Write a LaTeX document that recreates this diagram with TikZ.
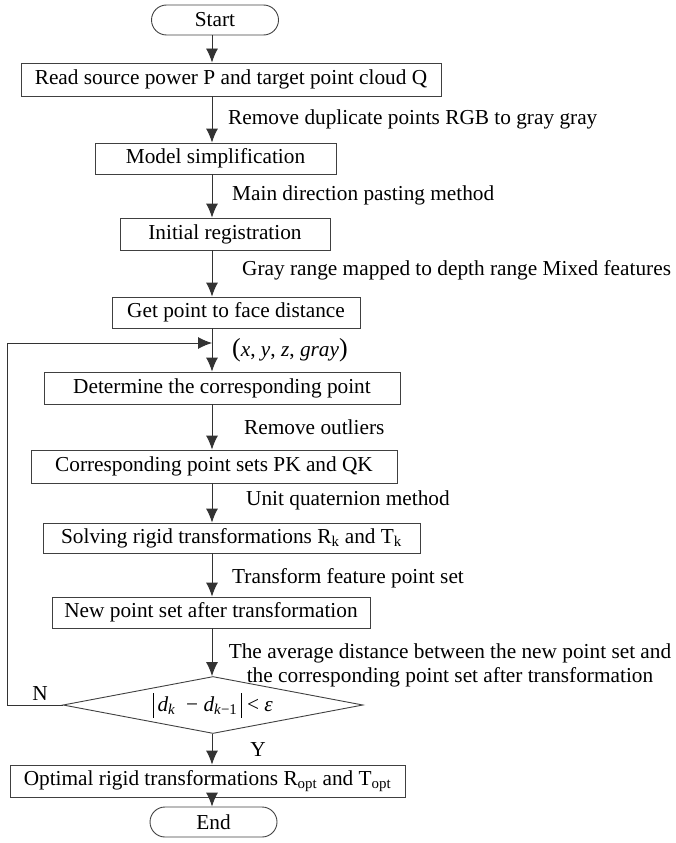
\documentclass[tikz,border=0pt]{standalone}
\usepackage{fontspec}
\setmainfont{Liberation Serif}
\usetikzlibrary{arrows.meta,shapes.geometric,shapes.misc}
\newcommand{\tallbar}{\rule[-6pt]{0.8pt}{25pt}}
\newcommand{\bigpar}[1]{{\fontsize{26}{26}\selectfont\raisebox{0.5pt}{#1}}}
\begin{document}
\begin{tikzpicture}[x=1pt,y=-1pt,
  font=\fontsize{21.3}{24}\selectfont,
  box/.style={draw=black!75,line width=0.9pt,rectangle,inner sep=0pt,minimum height=#1},
  box/.default=32pt,
  term/.style={draw=black!75,line width=0.9pt,rounded rectangle,inner sep=0pt,minimum width=127pt,minimum height=30pt},
  dec/.style={draw=black!75,line width=0.9pt,diamond,aspect=5.26,inner sep=0pt,minimum width=300pt,minimum height=57pt},
  lbl/.style={anchor=west,inner sep=0pt},
  arr/.style={draw=black!80,line width=0.9pt,-{Latex[length=14pt,width=12pt]}},
  ln/.style={draw=black!80,line width=0.9pt}]
\useasboundingbox (0,0) rectangle (675,843);
\coordinate (ax) at (212,0);

\node[term] (start) at (215,20) {Start};
\node[box=33pt,minimum width=420pt] (b1) at (231,79.5) {Read source power P and target point cloud Q};
\node[box=31pt,minimum width=241pt] (b2) at (215.5,158.5) {Model simplification};
\node[box=32pt,minimum width=210pt] (b3) at (225,234) {Initial registration};
\node[box=31pt,minimum width=248pt] (b4) at (236,312.5) {Get point to face distance};
\node[box=32pt,minimum width=356pt] (b5) at (222,388) {Determine the corresponding point};
\node[box=33pt,minimum width=366pt] (b6) at (214,466.5) {Corresponding point sets PK and QK};
\node[box=30pt,minimum width=377pt] (b7) at (231.5,538) {Solving rigid transformations R\textsubscript{k} and T\textsubscript{k}};
\node[box=31pt,minimum width=318pt] (b8) at (211,612.5) {New point set after transformation};
\node[dec] (d) at (213,705) {};
\node[inner sep=0pt] (dt) at (d.center) {\tallbar\,\textit{d}\textsubscript{\textit{k}}\ \ − \textit{d}\textsubscript{\textit{k}−1}\,\tallbar\ < \textit{ε}};
\node[box=32pt,minimum width=395pt] (b9) at (207.5,781) {Optimal rigid transformations R\textsubscript{opt} and T\textsubscript{opt}};
\node[term] (end) at (213.5,822) {End};

\node[lbl] (l1) at (228,119) {Remove duplicate points RGB to gray gray};
\node[lbl] (l2) at (232,195) {Main direction pasting method};
\node[lbl] (l3) at (242,270) {Gray range mapped to depth range Mixed features};
\node[lbl] (l4) at (232,350) {\bigpar{(}\textit{x}, \textit{y}, \textit{z}, \textit{gray}\bigpar{)}};
\node[lbl] (l5) at (244,427) {Remove outliers};
\node[lbl] (l6) at (246,500) {Unit quaternion method};
\node[lbl] (l7) at (232,578) {Transform feature point set};
\node[inner sep=0pt,align=center] (l8) at (450,665) {The average distance between the new point set and\\the corresponding point set after transformation};
\node[inner sep=0pt] (ln) at (40,694) {N};
\node[inner sep=0pt] (ly) at (258,750) {Y};

\draw[arr] (start.south -| ax) -- (b1.north -| ax);
\draw[arr] (b1.south -| ax) -- (b2.north -| ax);
\draw[arr] (b2.south -| ax) -- (b3.north -| ax);
\draw[arr] (b3.south -| ax) -- (b4.north -| ax);
\draw[arr] (b4.south -| ax) -- (b5.north -| ax);
\draw[arr] (b5.south -| ax) -- (b6.north -| ax);
\draw[arr] (b6.south -| ax) -- (b7.north -| ax);
\draw[arr] (b7.south -| ax) -- (b8.north -| ax);
\draw[arr] (b8.south -| ax) -- (d.north -| ax);
\draw[arr] (d.south -| ax) -- (b9.north -| ax);
\draw[arr] (b9.south -| ax) -- (end.north -| ax);

\coordinate (fb) at (7,343);
\coordinate (fj) at (212,343);
\draw[arr] (d.west) -| (fb) -- (fj);
\end{tikzpicture}
\end{document}
